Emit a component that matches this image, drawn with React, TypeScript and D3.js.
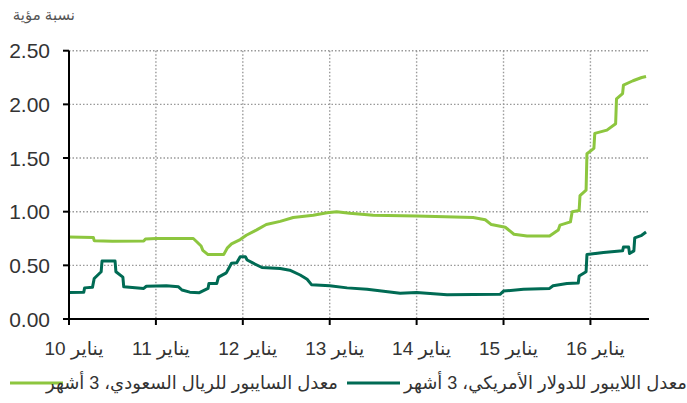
import React from 'react';
import * as d3 from 'd3';

// decimal year, percent
const saibor: [number, number][] = [
  [2010.0, 0.765], [2010.28, 0.76], [2010.29, 0.73], [2010.5, 0.725], [2010.86, 0.727],
  [2010.88, 0.745], [2011.0, 0.75], [2011.43, 0.75], [2011.47, 0.72], [2011.52, 0.68],
  [2011.54, 0.64], [2011.6, 0.6], [2011.78, 0.6], [2011.82, 0.66], [2011.87, 0.7],
  [2011.97, 0.74], [2012.04, 0.78], [2012.16, 0.83], [2012.27, 0.88], [2012.43, 0.91],
  [2012.58, 0.946], [2012.81, 0.967], [2012.97, 0.99], [2013.08, 1.0], [2013.23, 0.985],
  [2013.5, 0.967], [2014.0, 0.96], [2014.65, 0.945], [2014.79, 0.925], [2014.86, 0.88],
  [2015.02, 0.855], [2015.12, 0.79], [2015.27, 0.773], [2015.53, 0.773], [2015.63, 0.83],
  [2015.65, 0.875], [2015.77, 0.905], [2015.79, 1.0], [2015.87, 1.01], [2015.88, 1.15],
  [2015.95, 1.2], [2015.96, 1.54], [2016.04, 1.59], [2016.05, 1.73], [2016.19, 1.76],
  [2016.29, 1.82], [2016.3, 2.05], [2016.37, 2.1], [2016.38, 2.18], [2016.49, 2.22],
  [2016.59, 2.25], [2016.64, 2.26],
];

const libor: [number, number][] = [
  [2010.0, 0.246], [2010.17, 0.25], [2010.18, 0.29], [2010.27, 0.295], [2010.29, 0.377],
  [2010.37, 0.44], [2010.38, 0.54], [2010.53, 0.54], [2010.54, 0.44], [2010.62, 0.39],
  [2010.63, 0.3], [2010.86, 0.285], [2010.89, 0.305], [2011.12, 0.31], [2011.26, 0.3],
  [2011.3, 0.27], [2011.39, 0.25], [2011.5, 0.245], [2011.6, 0.285], [2011.61, 0.33],
  [2011.7, 0.33], [2011.72, 0.39], [2011.81, 0.43], [2011.87, 0.52], [2011.93, 0.525],
  [2011.97, 0.58], [2012.03, 0.58], [2012.05, 0.55], [2012.12, 0.52], [2012.22, 0.48],
  [2012.43, 0.47], [2012.54, 0.455], [2012.66, 0.41], [2012.74, 0.37], [2012.79, 0.32],
  [2013.0, 0.31], [2013.2, 0.29], [2013.43, 0.277], [2013.81, 0.24], [2014.0, 0.246],
  [2014.35, 0.226], [2014.96, 0.23], [2015.0, 0.26], [2015.23, 0.277], [2015.53, 0.285],
  [2015.57, 0.31], [2015.73, 0.33], [2015.86, 0.335], [2015.87, 0.4], [2015.95, 0.44],
  [2015.96, 0.6], [2016.15, 0.62], [2016.37, 0.635], [2016.38, 0.67], [2016.44, 0.67],
  [2016.45, 0.61], [2016.5, 0.635], [2016.51, 0.755], [2016.59, 0.78], [2016.64, 0.81],
];

const years = [2010, 2011, 2012, 2013, 2014, 2015, 2016];
const yTicks = [0, 0.5, 1.0, 1.5, 2.0, 2.5];
const yearLabel = (y: number) => `يناير ${y - 2000}`;
const unitLabel = 'نسبة مؤية';
const saiborName = 'معدل السايبور للريال السعودي، 3 أشهر';
const liborName = 'معدل اللايبور للدولار الأمريكي، 3 أشهر';

const LIGHT = '#8dc63f';
const DARK = '#006b54';
const FONT = '"Liberation Sans", Arial, "DejaVu Sans", sans-serif';

export default function App() {
  const width = 687;
  const height = 403;
  const x = d3.scaleLinear().domain([2010, 2016.674]).range([69, 649]);
  const y = d3.scaleLinear().domain([0, 2.5]).range([319, 50.7]);
  const line = d3.line<[number, number]>()
    .x(d => x(d[0]))
    .y(d => y(d[1]));

  return (
    <svg width={width} height={height} style={{ position: 'absolute', left: 0, top: 0, background: '#fff' }}
      fontFamily={FONT}>
      {/* grid */}
      {yTicks.filter(t => t > 0).map(t => (
        <line key={'h' + t} x1={x(2010)} x2={649} y1={y(t)} y2={y(t)}
          stroke="#999" strokeWidth={1.4} strokeDasharray="1.5,2" />
      ))}
      {years.filter(v => v > 2010).map(v => (
        <line key={'v' + v} x1={x(v)} x2={x(v)} y1={y(2.5)} y2={y(0)}
          stroke="#999" strokeWidth={1.4} strokeDasharray="1.5,2" />
      ))}

      {/* series */}
      <path d={line(saibor) || ''} fill="none" stroke={LIGHT} strokeWidth={3} strokeLinejoin="round" />
      <path d={line(libor) || ''} fill="none" stroke={DARK} strokeWidth={3} strokeLinejoin="round" />

      {/* axes */}
      <line x1={x(2010)} x2={x(2010)} y1={y(2.5)} y2={y(0)} stroke="#000" strokeWidth={2} />
      <line x1={x(2010)} x2={649} y1={y(0)} y2={y(0)} stroke="#000" strokeWidth={2} />
      {yTicks.map(t => (
        <g key={'yt' + t}>
          <line x1={x(2010) - 6} x2={x(2010)} y1={y(t)} y2={y(t)} stroke="#000" strokeWidth={2} />
          <text x={50} y={y(t) + 7.5} textAnchor="end" fontSize={21} fill="#333">{t.toFixed(2)}</text>
        </g>
      ))}
      {years.map(v => (
        <g key={'xt' + v}>
          <line x1={x(v)} x2={x(v)} y1={y(0)} y2={y(0) + 6} stroke="#000" strokeWidth={2} />
          <text x={x(v) + 5} y={355} textAnchor="middle" direction="rtl" fontSize={19} fill="#333">
            {yearLabel(v)}
          </text>
        </g>
      ))}

      <text x={75} y={20} direction="rtl" textAnchor="start" fontSize={15} fill="#555">{unitLabel}</text>

      {/* legend */}
      <line x1={10} x2={63} y1={383} y2={383} stroke={LIGHT} strokeWidth={3} />
      <text x={338} y={389} direction="rtl" textAnchor="start" fontSize={18} fill="#333">{saiborName}</text>
      <line x1={347} x2={400} y1={383} y2={383} stroke={DARK} strokeWidth={3} />
      <text x={687} y={389} direction="rtl" textAnchor="start" fontSize={18} fill="#333">{liborName}</text>
    </svg>
  );
}
